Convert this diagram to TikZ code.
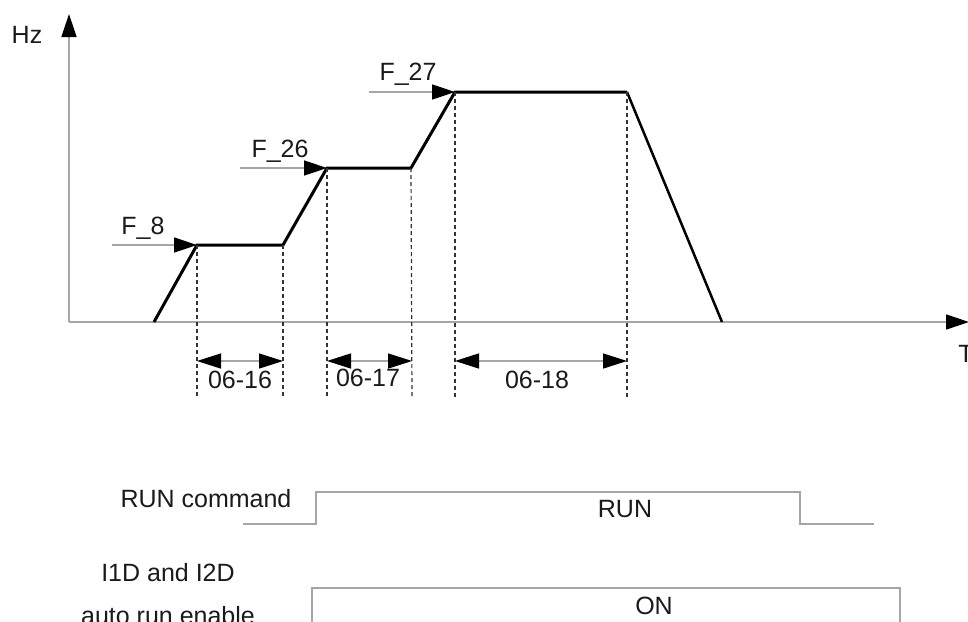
\documentclass[tikz,border=0pt]{standalone}
\usepackage{fontspec}
\setmainfont{Liberation Sans}
\usetikzlibrary{arrows.meta}
\definecolor{axisgray}{HTML}{A6A6A6}
\definecolor{txt}{HTML}{1A1A1A}
\begin{document}
\begin{tikzpicture}[x=1pt,y=-1pt,
  axis/.style={draw=axisgray, line width=1.5pt},
  tipend/.style={-{Triangle[length=23pt,width=15pt,color=black]}},
  tipboth/.style={{Triangle[length=24pt,width=15pt,color=black]}-{Triangle[length=24pt,width=15pt,color=black]}},
  profile/.style={line width=3pt, line join=miter, line cap=butt},
  guide/.style={draw=black!80, dash pattern=on 4pt off 3pt, line width=1.2pt},
  lbl/.style={font=\fontsize{25}{30}\selectfont, inner sep=0pt, text=txt, anchor=base},
  wave/.style={draw=axisgray, line width=1.5pt}]
\useasboundingbox (0,0) rectangle (968,621);

% axes
\coordinate (O) at (69,322);
\coordinate (ytop) at (69,14);
\coordinate (xend) at (969,322);
\draw[axis,tipend] (O) -- (ytop);
\draw[axis,tipend] (O) -- (xend);
\node[lbl] (hz) at (27,43) {Hz};
\node[lbl] (t) at (966,362) {T};

% profile
\coordinate (p0) at (154,322);
\coordinate (p1) at (197,245);
\coordinate (p2) at (283,245);
\coordinate (p3) at (327,168);
\coordinate (p4) at (411,168);
\coordinate (p5) at (455,92);
\coordinate (p6) at (627,92);
\coordinate (p7) at (722,322);
\draw[profile] (p0) -- (p1) -- (p2) -- (p3) -- (p4) -- (p5) -- (p6);
\draw[line width=2.5pt] (p6) -- (p7);

% guides
\coordinate (g1) at (197,398);
\coordinate (g2) at (283,398);
\coordinate (g3) at (327,398);
\coordinate (g4) at (412,398);
\coordinate (g5) at (455,398);
\coordinate (g6) at (627,398);
\draw[guide] (p1) -- (g1);
\draw[guide] (p2) -- (g2);
\draw[guide] (p3) -- (g3);
\draw[guide] (p4) -- (g4);
\draw[guide] (p5) -- (g5);
\draw[guide] (p6) -- (g6);

% dimension arrows
\coordinate (d1a) at (197,361);
\coordinate (d1b) at (283,361);
\coordinate (d2a) at (327,361);
\coordinate (d2b) at (412,361);
\coordinate (d3a) at (455,361);
\coordinate (d3b) at (627,361);
\draw[axis,tipboth] (d1a) -- (d1b);
\draw[axis,tipboth] (d2a) -- (d2b);
\draw[axis,tipboth] (d3a) -- (d3b);
\node[lbl] (l16) at (240,388) {06-16};
\node[lbl] (l17) at (368,386) {06-17};
\node[lbl] (l18) at (537,388) {06-18};

% frequency level arrows
\coordinate (f8s) at (112,245);
\coordinate (f26s) at (240,168);
\coordinate (f27s) at (369,92);
\draw[axis,tipend] (f8s) -- (p1);
\draw[axis,tipend] (f26s) -- (p3);
\draw[axis,tipend] (f27s) -- (p5);
\node[lbl] (f8) at (143,234) {F\_8};
\node[lbl] (f26) at (280,157) {F\_26};
\node[lbl] (f27) at (408,80) {F\_27};

% timing: RUN command
\node[lbl] (runcmd) at (206,507) {RUN command};
\draw[wave] (243,524) -- (316,524) -- (316,492) -- (800,492) -- (800,524) -- (874,524);
\node[lbl] (run) at (625,517) {RUN};

% timing: auto run enable
\node[lbl] (i1d) at (168,581) {I1D and I2D};
\node[lbl] (auto) at (168,624) {auto run enable};
\draw[wave] (312,630) -- (312,588) -- (900,588) -- (900,630);
\node[lbl] (on) at (654,614) {ON};
\end{tikzpicture}
\end{document}
